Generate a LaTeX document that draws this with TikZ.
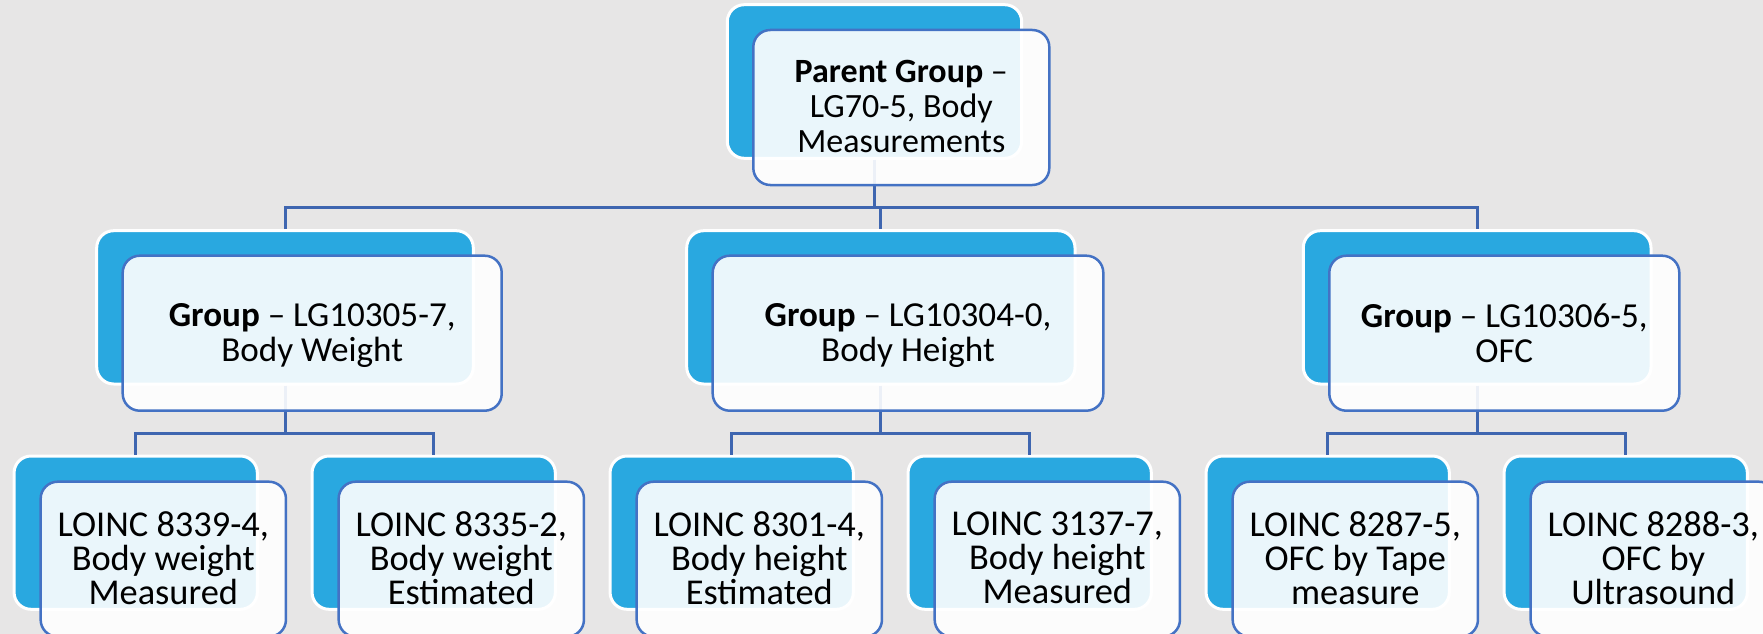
\documentclass[tikz,border=0pt]{standalone}
\usepackage{fontspec}
\setmainfont{Carlito}
\definecolor{bgc}{HTML}{E7E6E6}
\definecolor{backc}{HTML}{29A8E0}
\definecolor{edgec}{HTML}{4472C4}
\definecolor{connc}{HTML}{3F66B0}
\begin{document}
\begin{tikzpicture}[x=1pt,y=-1pt,
  backbox/.style={rectangle, rounded corners=17pt, fill=backc, draw=white, line width=3pt, inner sep=0pt},
  frontbox/.style={rectangle, rounded corners=17pt, fill=white, fill opacity=0.9, draw=edgec, line width=2.5pt, inner sep=0pt},
  conn/.style={draw=connc, line width=3pt},
  txt/.style={inner sep=0pt, align=center, anchor=north, text=black},
  ptxt/.style={txt, font=\fontsize{34pt}{35pt}\selectfont},
  gtxt/.style={txt, font=\fontsize{35.1pt}{35pt}\selectfont},
  ctxt/.style={txt, font=\fontsize{36.4pt}{34pt}\selectfont},
  gback/.style={backbox, minimum height=153.3pt},
  gfront/.style={frontbox, minimum height=155pt},
  cback/.style={backbox, minimum width=243.3pt, minimum height=153.3pt},
  cfront/.style={frontbox, minimum width=245.3pt, minimum height=155pt}]
\useasboundingbox (0,0) rectangle (1763,634);
\clip (0,0) rectangle (1763,634);
\fill[bgc] (0,0) rectangle (1763,634);

% back boxes
\node[backbox, minimum width=294.4pt, minimum height=153.6pt] (pb) at (874.5,81.5) {};
\node[gback, minimum width=376.6pt] (g1b) at (285,307.35) {};
\node[gback, minimum width=388.3pt] (g2b) at (880.85,307.35) {};
\node[gback, minimum width=347.7pt] (g3b) at (1477.15,307.35) {};
\node[cback] (c1b) at (135.7,532.65) {};
\node[cback] (c2b) at (433.7,532.65) {};
\node[cback] (c3b) at (731.7,532.65) {};
\node[cback] (c4b) at (1029.7,532.65) {};
\node[cback] (c5b) at (1327.7,532.65) {};
\node[cback] (c6b) at (1625.7,532.65) {};

% bus coordinates
\coordinate (busA) at (0,207);
\coordinate (busB) at (0,433.5);

% connectors
\draw[conn] (pb.south) -- (pb.south |- busA);
\draw[conn] (g1b.north) -- (g1b.north |- busA) -- (g3b.north |- busA) -- (g3b.north);
\draw[conn] (g2b.north) -- (g2b.north |- busA);
\draw[conn] (g1b.south) -- (g1b.south |- busB);
\draw[conn] (c1b.north) -- (c1b.north |- busB) -- (c2b.north |- busB) -- (c2b.north);
\draw[conn] (g2b.south) -- (g2b.south |- busB);
\draw[conn] (c3b.north) -- (c3b.north |- busB) -- (c4b.north |- busB) -- (c4b.north);
\draw[conn] (g3b.south) -- (g3b.south |- busB);
\draw[conn] (c5b.north) -- (c5b.north |- busB) -- (c6b.north |- busB) -- (c6b.north);

% front boxes
\node[frontbox, minimum width=296pt, minimum height=155pt] (pf) at (901.3,107.5) {};
\node[gfront, minimum width=379pt] (g1f) at (312.2,333.2) {};
\node[gfront, minimum width=390.6pt] (g2f) at (908,333.2) {};
\node[gfront, minimum width=350pt] (g3f) at (1504.3,333.2) {};
\node[cfront] (c1f) at (163.3,559.2) {};
\node[cfront] (c2f) at (461.3,559.2) {};
\node[cfront] (c3f) at (759.3,559.2) {};
\node[cfront] (c4f) at (1057.3,559.2) {};
\node[cfront] (c5f) at (1355.3,559.2) {};
\node[cfront] (c6f) at (1653.3,559.2) {};

% texts
\node[ptxt] (pt) at (901.3,60.5) {\textbf{Parent Group} –\\LG70-5, Body\\Measurements};
\node[gtxt] (g1t) at (312.2,303) {\textbf{Group} – LG10305-7,\\Body Weight};
\node[gtxt] (g2t) at (908,303.5) {\textbf{Group} – LG10304-0,\\Body Height};
\node[gtxt] (g3t) at (1504.3,303.5) {\textbf{Group} – LG10306-5,\\OFC};
\node[ctxt] (c1t) at (163.3,511.5) {LOINC 8339-4,\\Body weight\\Measured};
\node[ctxt] (c2t) at (461.3,511.5) {LOINC 8335-2,\\Body weight\\Estimated};
\node[ctxt] (c3t) at (759.3,511.5) {LOINC 8301-4,\\Body height\\Estimated};
\node[ctxt] (c4t) at (1057.3,511.5) {LOINC 3137-7,\\Body height\\Measured};
\node[ctxt] (c5t) at (1355.3,511.5) {LOINC 8287-5,\\OFC by Tape\\measure};
\node[ctxt] (c6t) at (1653.3,511.5) {LOINC 8288-3,\\OFC by\\Ultrasound};
\end{tikzpicture}
\end{document}
